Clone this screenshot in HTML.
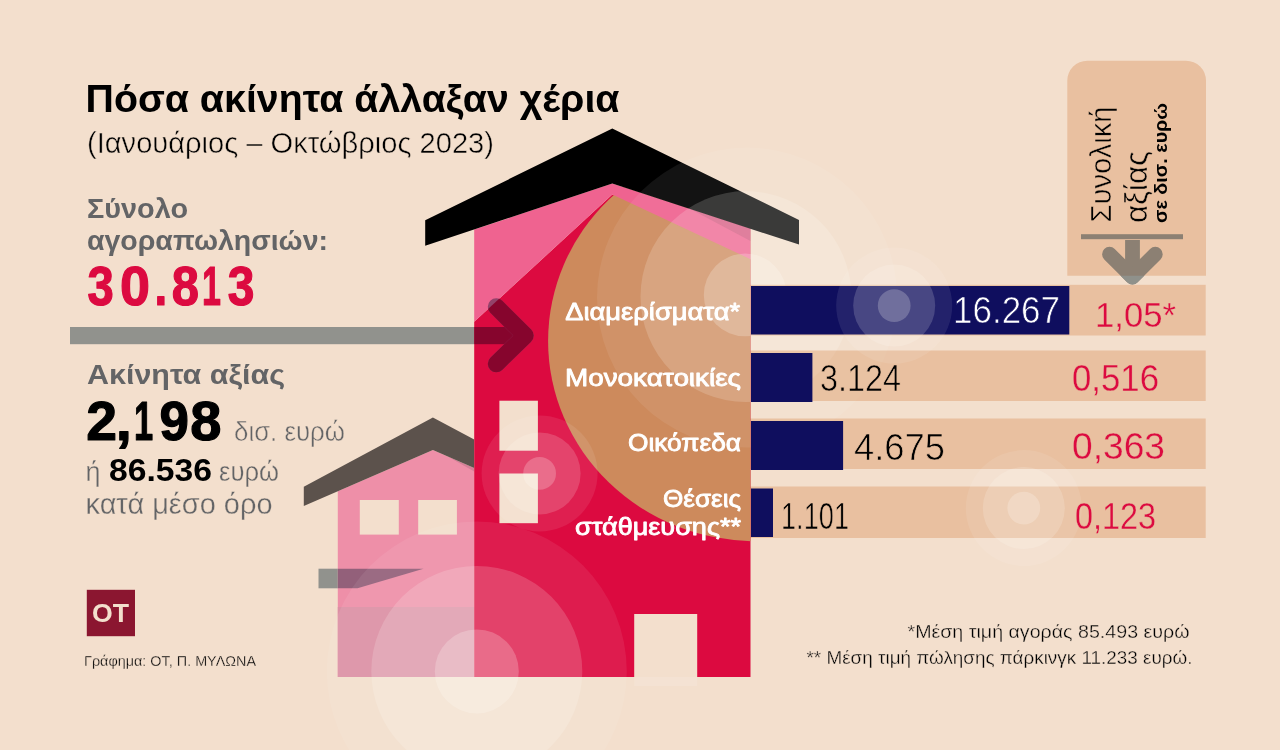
<!DOCTYPE html>
<html lang="el">
<head>
<meta charset="utf-8">
<title>Πόσα ακίνητα άλλαξαν χέρια</title>
<style>
  html, body { margin: 0; padding: 0; background: #f3dfcd; }
  body { width: 1280px; height: 750px; overflow: hidden; font-family: "Liberation Sans", sans-serif; }
  svg { display: block; position: absolute; left: 0; top: 0; }
  text { font-family: "Liberation Sans", sans-serif; }
  .b { font-weight: bold; }
  .g { fill: #636466; }
  .r { fill: #dc0a40; }
  .w { fill: #ffffff; }
  .k { fill: #000000; }
</style>
</head>
<body>
<svg width="1280" height="750" viewBox="0 0 1280 750">
  <defs>
    <clipPath id="redpoly">
      <polygon points="474.2,321.7 612.3,194.5 750.5,259.2 750.5,677 474.2,677"/>
    </clipPath>
    <clipPath id="houseclip">
      <polygon points="474.2,229.6 612.3,183.5 750.5,228.2 750.5,677 474.2,677"/>
    </clipPath>
    <g id="ringsL" fill="#fffffa">
      <circle r="150" fill-opacity="0.075"/>
      <circle r="105.5" fill-opacity="0.17"/>
      <circle r="42" fill-opacity="0.22"/>
    </g>
    <g id="ringsS" fill="#fffffa">
      <circle r="58" fill-opacity="0.085"/>
      <circle r="41" fill-opacity="0.17"/>
      <circle r="16.4" fill-opacity="0.22"/>
    </g>
  </defs>

  <rect x="0" y="0" width="1280" height="750" fill="#f3dfcd"/>

  <!-- ===== small house ===== -->
  <polygon points="337.8,491.2 432.9,449.9 474.2,468 474.2,677 337.8,677" fill="#ee8fa8"/>
  <rect x="337.8" y="607" width="136.4" height="70" fill="#dc90a5"/>
  <polygon points="446.9,456 474.2,468 474.2,471.6" fill="#201020" fill-opacity="0.12"/>
  <polygon points="303.8,486.8 432.9,417.6 474.2,439.6 474.2,468 432.9,449.9 303.8,505.9" fill="#5c524c"/>
  <rect x="359.8" y="500" width="39" height="34.6" fill="#f3dfcd"/>
  <rect x="418.2" y="500" width="38.7" height="34.6" fill="#f3dfcd"/>
  <polygon points="318.5,568.7 337.8,568.7 337.8,588.3 318.5,588.3" fill="#91928d"/>
  <polygon points="337.8,568.7 423.5,568.7 357.5,588.3 337.8,588.3" fill="#93607a"/>

  <!-- ===== big house ===== -->
  <polygon points="474.2,321.7 612.3,194.5 750.5,259.2 750.5,677 474.2,677" fill="#dc0a40"/>
  <ellipse cx="755.9" cy="341" rx="207.8" ry="200.2" fill="#cd8a5c" clip-path="url(#houseclip)"/>
  <polygon points="474.2,229.6 612.3,183.5 750.5,228.2 750.5,259.2 612.3,194.5 474.2,321.7" fill="#ef6390"/>
  <polygon points="689.9,208.7 750.5,228.5 750.5,241" fill="#201020" fill-opacity="0.12"/>
  <!-- roof -->
  <polygon points="425.2,220.2 612.3,128.5 799,220 799,244.6 612.3,183.5 425.2,245.8" fill="#000000"/>
  <!-- windows / door -->
  <rect x="499.4" y="400.7" width="38.5" height="50" fill="#f3dfcd"/>
  <rect x="499.4" y="473.5" width="38.5" height="49.7" fill="#f3dfcd"/>
  <rect x="634.2" y="614" width="63" height="63.5" fill="#f3dfcd"/>
  <rect x="634.2" y="677" width="63" height="9" fill="#ffffff" fill-opacity="0.12"/>

  <!-- ===== big arrow ===== -->
  <rect x="70" y="327" width="404.2" height="17.2" fill="#91928d"/>
  <rect x="474.2" y="327" width="50" height="17.2" fill="#86052d"/>
  <path d="M496.3,306.7 L525.2,335.6 L496.3,363.8" fill="none" stroke="#93436a" stroke-width="17" stroke-linecap="round" stroke-linejoin="round"/>
  <path d="M496.3,306.7 L525.2,335.6 L496.3,363.8" fill="none" stroke="#86052d" stroke-width="17" stroke-linecap="round" stroke-linejoin="round" clip-path="url(#redpoly)"/>

  <!-- ===== translucent rings ===== -->
  <g fill="#fffffa">
    <circle cx="747" cy="297.6" r="150" fill-opacity="0.075"/>
    <circle cx="746" cy="296.6" r="105.5" fill-opacity="0.17"/>
    <circle cx="745.2" cy="294.9" r="41.4" fill-opacity="0.22"/>
  </g>
  <use href="#ringsL" x="476.8" y="671.4"/>

  <!-- ===== table rows / header column ===== -->
  <path d="M1067.3,275.8 V80.7 a20,20 0 0 1 20,-20 H1186 a20,20 0 0 1 20,20 V275.8 Z" fill="#f5dcc7" style="mix-blend-mode:multiply"/>
  <rect x="750.5" y="284.8" width="455.2" height="50.7" fill="#f5dcc7" style="mix-blend-mode:multiply"/>
  <rect x="750.5" y="350.5" width="455.2" height="50.5" fill="#f5dcc7" style="mix-blend-mode:multiply"/>
  <rect x="750.5" y="418.5" width="455.2" height="50.5" fill="#f5dcc7" style="mix-blend-mode:multiply"/>
  <rect x="750.5" y="486.5" width="455.2" height="51.5" fill="#f5dcc7" style="mix-blend-mode:multiply"/>

  <!-- blue bars -->
  <rect x="751" y="286" width="318.3" height="48.5" fill="#0f0e5e"/>
  <rect x="751" y="353" width="61.4" height="49" fill="#0f0e5e"/>
  <rect x="751" y="421" width="92.1" height="49" fill="#0f0e5e"/>
  <rect x="751" y="488.5" width="22" height="48.5" fill="#0f0e5e"/>


  <!-- ===== header arrow ===== -->
  <defs>
    <clipPath id="gapclip"><rect x="1067" y="275.8" width="139" height="9.2"/></clipPath>
    <g id="harrow" fill="none" stroke-width="14.8" stroke-linejoin="round">
      <path d="M1132.5,240 V274" stroke-linecap="butt"/>
      <path d="M1109.5,254.2 L1132.4,277.1 L1155.3,254.2" stroke-linecap="round"/>
    </g>
  </defs>
  <rect x="1081" y="234.2" width="102" height="5" fill="#8c8073"/>
  <use href="#harrow" stroke="#8c8073"/>
  <use href="#harrow" stroke="#8f918b" clip-path="url(#gapclip)"/>

  <!-- small rings (on top of bars) -->
  <use href="#ringsS" x="894.2" y="305.6"/>
  <use href="#ringsS" x="539.6" y="473.4"/>
  <use href="#ringsS" x="1023.8" y="508.1"/>

  <!-- ===== left text ===== -->
  <text class="b k" x="85.5" y="112" font-size="38" textLength="534" lengthAdjust="spacingAndGlyphs">Πόσα ακίνητα άλλαξαν χέρια</text>
  <text class="k" x="87" y="153" font-size="30" stroke="#f3dfcd" stroke-width="0.5" textLength="407" lengthAdjust="spacingAndGlyphs">(Ιανουάριος – Οκτώβριος 2023)</text>
  <text class="b g" x="87" y="217.7" font-size="28" textLength="101" lengthAdjust="spacingAndGlyphs">Σύνολο</text>
  <text class="b g" x="87" y="250.4" font-size="28" textLength="241" lengthAdjust="spacingAndGlyphs">αγοραπωλησιών:</text>
  <text class="b r" font-size="55" stroke="#dc0a40" stroke-width="1.2" stroke-linejoin="round" transform="translate(87.6,305.3) scale(0.859,1)">3</text>
  <text class="b r" font-size="55" stroke="#dc0a40" stroke-width="1.2" stroke-linejoin="round" transform="translate(119.9,305.3) scale(0.981,1)">0</text>
  <text class="b r" font-size="55" stroke="#dc0a40" stroke-width="1.2" stroke-linejoin="round" transform="translate(154.5,305.3) scale(0.831,1)">.</text>
  <text class="b r" font-size="55" stroke="#dc0a40" stroke-width="1.2" stroke-linejoin="round" transform="translate(171.7,305.3) scale(0.891,1)">8</text>
  <text class="b r" font-size="55" stroke="#dc0a40" stroke-width="1.2" stroke-linejoin="round" transform="translate(202.1,305.3) scale(0.620,1)">1</text>
  <text class="b r" font-size="55" stroke="#dc0a40" stroke-width="1.2" stroke-linejoin="round" transform="translate(227.8,305.3) scale(0.873,1)">3</text>
  <text class="b g" x="87" y="383.8" font-size="28" textLength="198" lengthAdjust="spacingAndGlyphs">Ακίνητα αξίας</text>
  <text class="b k" font-size="55" stroke="#000" stroke-width="1.2" stroke-linejoin="round" transform="translate(86.3,440.2) scale(1.005,1)">2</text>
  <text class="b k" font-size="55" stroke="#000" stroke-width="1.2" stroke-linejoin="round" transform="translate(115.8,440.2) scale(1.050,1)">,</text>
  <text class="b k" font-size="55" stroke="#000" stroke-width="1.2" stroke-linejoin="round" transform="translate(134.1,440.2) scale(0.625,1)">1</text>
  <text class="b k" font-size="55" stroke="#000" stroke-width="1.2" stroke-linejoin="round" transform="translate(159.5,440.2) scale(0.962,1)">9</text>
  <text class="b k" font-size="55" stroke="#000" stroke-width="1.2" stroke-linejoin="round" transform="translate(190.3,440.2) scale(1.020,1)">8</text>
  <text class="g" x="234" y="440.8" font-size="27" stroke="#f3dfcd" stroke-width="0.45" textLength="111" lengthAdjust="spacingAndGlyphs">δισ. ευρώ</text>
  <text class="g" x="85.5" y="480.8" font-size="28" stroke="#f3dfcd" stroke-width="0.35" textLength="15" lengthAdjust="spacingAndGlyphs">ή</text>
  <text class="b k" x="109" y="480.8" font-size="30.5" textLength="103" lengthAdjust="spacingAndGlyphs">86.536</text>
  <text class="g" x="219" y="480.8" font-size="28.5" stroke="#f3dfcd" stroke-width="0.35" textLength="60" lengthAdjust="spacingAndGlyphs">ευρώ</text>
  <text class="g" x="85.5" y="514.3" font-size="30" stroke="#f3dfcd" stroke-width="0.35" textLength="187" lengthAdjust="spacingAndGlyphs">κατά μέσο όρο</text>

  <!-- logo + credit -->
  <rect x="86.8" y="589.8" width="48.2" height="46.4" fill="#8b1630"/>
  <text class="b" x="92" y="622.1" font-size="26" fill="#f3dfcd" textLength="37" lengthAdjust="spacingAndGlyphs">OT</text>
  <text class="k" x="84" y="666.3" font-size="15" stroke="#f3dfcd" stroke-width="0.3" textLength="172" lengthAdjust="spacingAndGlyphs">Γράφημα: ΟΤ, Π. ΜΥΛΩΝΑ</text>

  <!-- ===== category labels ===== -->
  <g class="w" font-size="24" text-anchor="end" stroke="#ffffff" stroke-width="0.85" stroke-linejoin="round">
    <text x="740.2" y="320.1" textLength="175" lengthAdjust="spacingAndGlyphs">Διαμερίσματα*</text>
    <text x="741" y="386.3" textLength="176" lengthAdjust="spacingAndGlyphs">Μονοκατοικίες</text>
    <text x="741" y="450.7" textLength="113" lengthAdjust="spacingAndGlyphs">Οικόπεδα</text>
    <text x="741" y="507" textLength="78" lengthAdjust="spacingAndGlyphs">Θέσεις</text>
    <text x="741" y="535" textLength="166" lengthAdjust="spacingAndGlyphs">στάθμευσης**</text>
  </g>

  <!-- ===== values ===== -->
  <text class="w" x="953" y="323.3" font-size="36.5" stroke="#0f0e5e" stroke-width="0.7" textLength="107" lengthAdjust="spacingAndGlyphs">16.267</text>
  <text class="k" x="820" y="390.7" font-size="36.5" stroke="#e9c0a0" stroke-width="0.7" textLength="81" lengthAdjust="spacingAndGlyphs">3.124</text>
  <text class="k" x="854" y="460.1" font-size="36.5" stroke="#e9c0a0" stroke-width="0.7" textLength="91" lengthAdjust="spacingAndGlyphs">4.675</text>
  <text class="k" x="781" y="528.8" font-size="36.5" stroke="#e9c0a0" stroke-width="0.7" textLength="68" lengthAdjust="spacingAndGlyphs">1.101</text>

  <text class="r" x="1095" y="327" font-size="35" stroke="#e9c0a0" stroke-width="0.35" textLength="81" lengthAdjust="spacingAndGlyphs">1,05*</text>
  <text class="r" x="1072" y="390.7" font-size="36" stroke="#e9c0a0" stroke-width="0.35" textLength="87" lengthAdjust="spacingAndGlyphs">0,516</text>
  <text class="r" x="1072" y="458.6" font-size="36" stroke="#e9c0a0" stroke-width="0.35" textLength="93" lengthAdjust="spacingAndGlyphs">0,363</text>
  <text class="r" x="1075" y="528.8" font-size="36" stroke="#e9c0a0" stroke-width="0.35" textLength="81" lengthAdjust="spacingAndGlyphs">0,123</text>

  <!-- ===== header vertical text ===== -->
  <text class="k" transform="translate(1111,222.5) rotate(-90)" font-size="30" stroke="#e9c0a0" stroke-width="0.5" textLength="116" lengthAdjust="spacingAndGlyphs">Συνολική</text>
  <text class="k" transform="translate(1146.7,223) rotate(-90)" font-size="32" stroke="#e9c0a0" stroke-width="0.5" textLength="72" lengthAdjust="spacingAndGlyphs">αξίας</text>
  <text class="b k" transform="translate(1167.3,223) rotate(-90)" font-size="18.5" textLength="120" lengthAdjust="spacingAndGlyphs">σε δισ. ευρώ</text>

  <!-- ===== footnotes ===== -->
  <text class="k" x="1189.5" y="637.7" font-size="19" stroke="#f3dfcd" stroke-width="0.35" text-anchor="end" textLength="282" lengthAdjust="spacingAndGlyphs">*Μέση τιμή αγοράς 85.493 ευρώ</text>
  <text class="k" x="1192.5" y="664" font-size="19" stroke="#f3dfcd" stroke-width="0.35" text-anchor="end" textLength="386" lengthAdjust="spacingAndGlyphs">** Μέση τιμή πώλησης πάρκινγκ 11.233 ευρώ.</text>
</svg>
</body>
</html>
